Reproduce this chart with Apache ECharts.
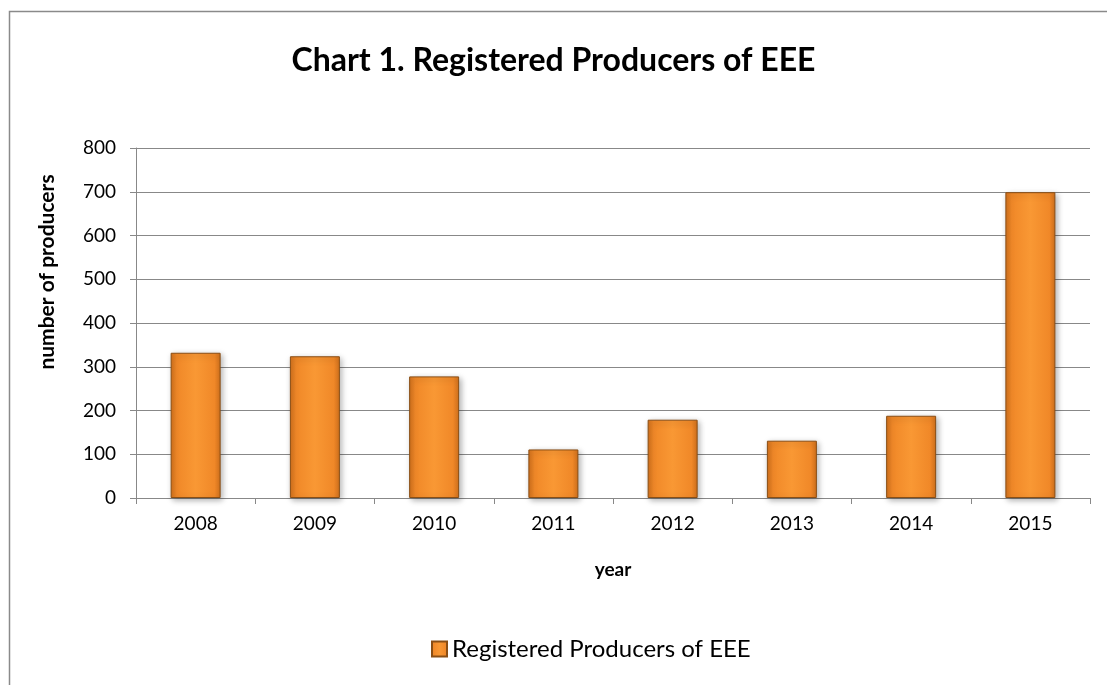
<!DOCTYPE html>
<html>
<head>
<meta charset="utf-8">
<script src="https://cdn.jsdelivr.net/npm/echarts@6/dist/echarts.min.js"></script>
<style>html,body{margin:0;padding:0;background:#fff}#c{width:1107px;height:685px}</style>
</head>
<body>
<div id="c"></div>
<script>
const categories = ['2008','2009','2010','2011','2012','2013','2014','2015'];
const producers = [332, 324, 278, 111, 179, 131, 188, 699];
const yTicks = [0, 100, 200, 300, 400, 500, 600, 700, 800];

const FONT = 'Lato, "Liberation Sans", sans-serif';
const chart = echarts.init(document.getElementById('c'));
const barGrad = new echarts.graphic.LinearGradient(0, 0, 1, 0, [
  {offset: 0, color: '#D0701C'},
  {offset: 0.12, color: '#F08828'},
  {offset: 0.5, color: '#F99834'},
  {offset: 0.88, color: '#F08828'},
  {offset: 1, color: '#D0701C'}
]);
const capGrad = new echarts.graphic.LinearGradient(0, 0, 0, 1, [
  {offset: 0, color: '#FFD27A'},
  {offset: 1, color: '#FBA642'}
]);
chart.setOption({
  animation: false,
  title: {
    text: 'Chart 1. Registered Producers of EEE',
    left: 'center', top: 40,
    textStyle: {fontFamily: FONT, fontWeight: 'bold', fontSize: 32, color: '#000'}
  },
  graphic: [
    {type: 'rect', shape: {x: 9.5, y: 11.5, width: 1300, height: 900}, style: {fill: 'none', stroke: '#8a8a8a', lineWidth: 1.5}, silent: true, z: -1},
    {type: 'text', x: 47, y: 272, rotation: Math.PI / 2,
     style: {text: 'number of producers', font: 'bold 21px ' + FONT, fill: '#000', textAlign: 'center', textVerticalAlign: 'middle'}}
  ],
  legend: {
    data: ['Registered Producers of EEE'],
    left: 426, top: 632,
    icon: 'rect', itemWidth: 15, itemHeight: 15, itemGap: 6,
    textStyle: {fontFamily: FONT, fontSize: 24, color: '#000'}
  },
  grid: {left: 136, right: 17, top: 148, bottom: 187},
  xAxis: {
    type: 'category', data: categories,
    name: 'year', nameLocation: 'middle', nameGap: 62,
    nameTextStyle: {fontFamily: FONT, fontWeight: 'bold', fontSize: 19, color: '#000'},
    axisLine: {lineStyle: {color: '#888', width: 1}},
    axisTick: {show: true, length: 6, lineStyle: {color: '#888'}},
    axisLabel: {fontFamily: FONT, fontSize: 19, color: '#000', margin: 16}
  },
  yAxis: {
    type: 'value', min: 0, max: 800, interval: 100,
    axisLine: {show: true, lineStyle: {color: '#888', width: 1}},
    axisTick: {show: true, length: 6, lineStyle: {color: '#888'}},
    splitLine: {lineStyle: {color: '#888', width: 1}},
    axisLabel: {fontFamily: FONT, fontSize: 19, color: '#000', margin: 20,
      formatter: v => yTicks.includes(v) ? String(v) : ''}
  },
  series: [{
    name: 'Registered Producers of EEE',
    type: 'bar', data: producers, barWidth: 50,
    itemStyle: {
      color: barGrad,
      borderColor: '#8A4E14', borderWidth: 1,
      shadowColor: 'rgba(0,0,0,0.3)', shadowBlur: 6, shadowOffsetX: 2, shadowOffsetY: 2
    }
  }]
});
</script>
</body>
</html>
